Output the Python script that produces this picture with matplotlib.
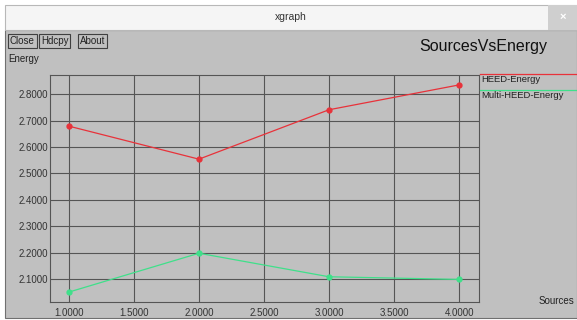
import matplotlib.pyplot as plt
from matplotlib.patches import Rectangle
from matplotlib.lines import Line2D

plt.rcParams['font.family'] = ['Liberation Sans', 'DejaVu Sans']

sources = [1.0, 2.0, 3.0, 4.0]
heed_energy = [2.679, 2.554, 2.741, 2.835]
multi_heed_energy = [2.051, 2.198, 2.109, 2.099]
x_ticks = [1.0, 1.5, 2.0, 2.5, 3.0, 3.5, 4.0]
y_ticks = [2.1, 2.2, 2.3, 2.4, 2.5, 2.6, 2.7, 2.8]

W, H = 577, 320
BG = '#c0c0c0'
GRID = '#555555'
RED = '#e8323a'
GREEN = '#3fe08a'

fig = plt.figure(figsize=(W / 100, H / 100), dpi=100)
fig.patch.set_facecolor('white')


def px(x, y):
    # pixel coords (from top-left) to figure fraction
    return x / W, 1 - y / H


# window body
fig.patches.append(Rectangle(px(5, 318), (W - 5) / W, 288 / H,
                             transform=fig.transFigure, facecolor=BG,
                             edgecolor='#707070', linewidth=0.8, zorder=-2))
# title bar
fig.patches.append(Rectangle(px(5, 30), (W - 5) / W, 25 / H,
                             transform=fig.transFigure, facecolor='#f5f5f5',
                             edgecolor='#b8b8b8', linewidth=0.8, zorder=-2))
fig.patches.append(Rectangle(px(548, 30), 29 / W, 25 / H,
                             transform=fig.transFigure, facecolor='#cfcfcf',
                             edgecolor='none', zorder=-1))
fig.text(*px(291, 17), 'xgraph', ha='center', va='center', fontsize=7.5,
         color='#333333')
fig.text(*px(563, 17), '×', ha='center', va='center', fontsize=8,
         color='white', fontweight='bold')

# buttons
for label, x0 in [('Close', 10), ('Hdcpy', 41), ('About', 80)]:
    fig.text(*px(x0, 41), label, ha='left', va='center', fontsize=7,
             color='#222222',
             bbox=dict(boxstyle='square,pad=0.2', facecolor=BG,
                       edgecolor='#404040', linewidth=0.8))

fig.text(*px(483, 46), 'SourcesVsEnergy', ha='center', va='center',
         fontsize=11.5, color='#111111')
fig.text(*px(8, 59), 'Energy', ha='left', va='center', fontsize=7,
         color='#222222')
fig.text(*px(574, 301), 'Sources', ha='right', va='center', fontsize=7,
         color='#222222')

ax = fig.add_axes([50 / W, (H - 302) / H, 429 / W, 227 / H])
ax.set_zorder(2)
ax.set_facecolor(BG)
ax.set_xlim(0.855, 4.153)
ax.set_ylim(2.0135, 2.8725)

for v in x_ticks:
    ax.axvline(v, color=GRID, linewidth=0.8, zorder=1)
for v in y_ticks:
    ax.axhline(v, color=GRID, linewidth=0.8, zorder=1)

ax.plot(sources, heed_energy, color=RED, linewidth=0.9, marker='o',
        markersize=3.5, zorder=3)
ax.plot(sources, multi_heed_energy, color=GREEN, linewidth=0.9, marker='o',
        markersize=3.5, zorder=3)

ax.set_xticks(x_ticks)
ax.set_yticks(y_ticks)
ax.set_xticklabels([f'{v:.4f}' for v in x_ticks])
ax.set_yticklabels([f'{v:.4f}' for v in y_ticks])
ax.tick_params(axis='both', labelsize=7, colors='#333333', length=0)
ax.tick_params(axis='y', pad=1.5)
ax.tick_params(axis='x', pad=4)
for s in ax.spines.values():
    s.set_color(GRID)
    s.set_linewidth(0.8)

# legend to the right of the frame
fig.lines.append(Line2D([480 / W, 1], [1 - 74 / H] * 2, color=RED,
                        linewidth=0.9, transform=fig.transFigure))
fig.lines.append(Line2D([480 / W, 1], [1 - 90 / H] * 2, color=GREEN,
                        linewidth=0.9, transform=fig.transFigure))
fig.text(*px(481, 80), 'HEED-Energy', ha='left', va='center', fontsize=6.8,
         color='#222222')
fig.text(*px(481, 96), 'Multi-HEED-Energy', ha='left', va='center',
         fontsize=6.8, color='#222222')

fig.savefig('out.png', dpi=100, facecolor=fig.get_facecolor())
